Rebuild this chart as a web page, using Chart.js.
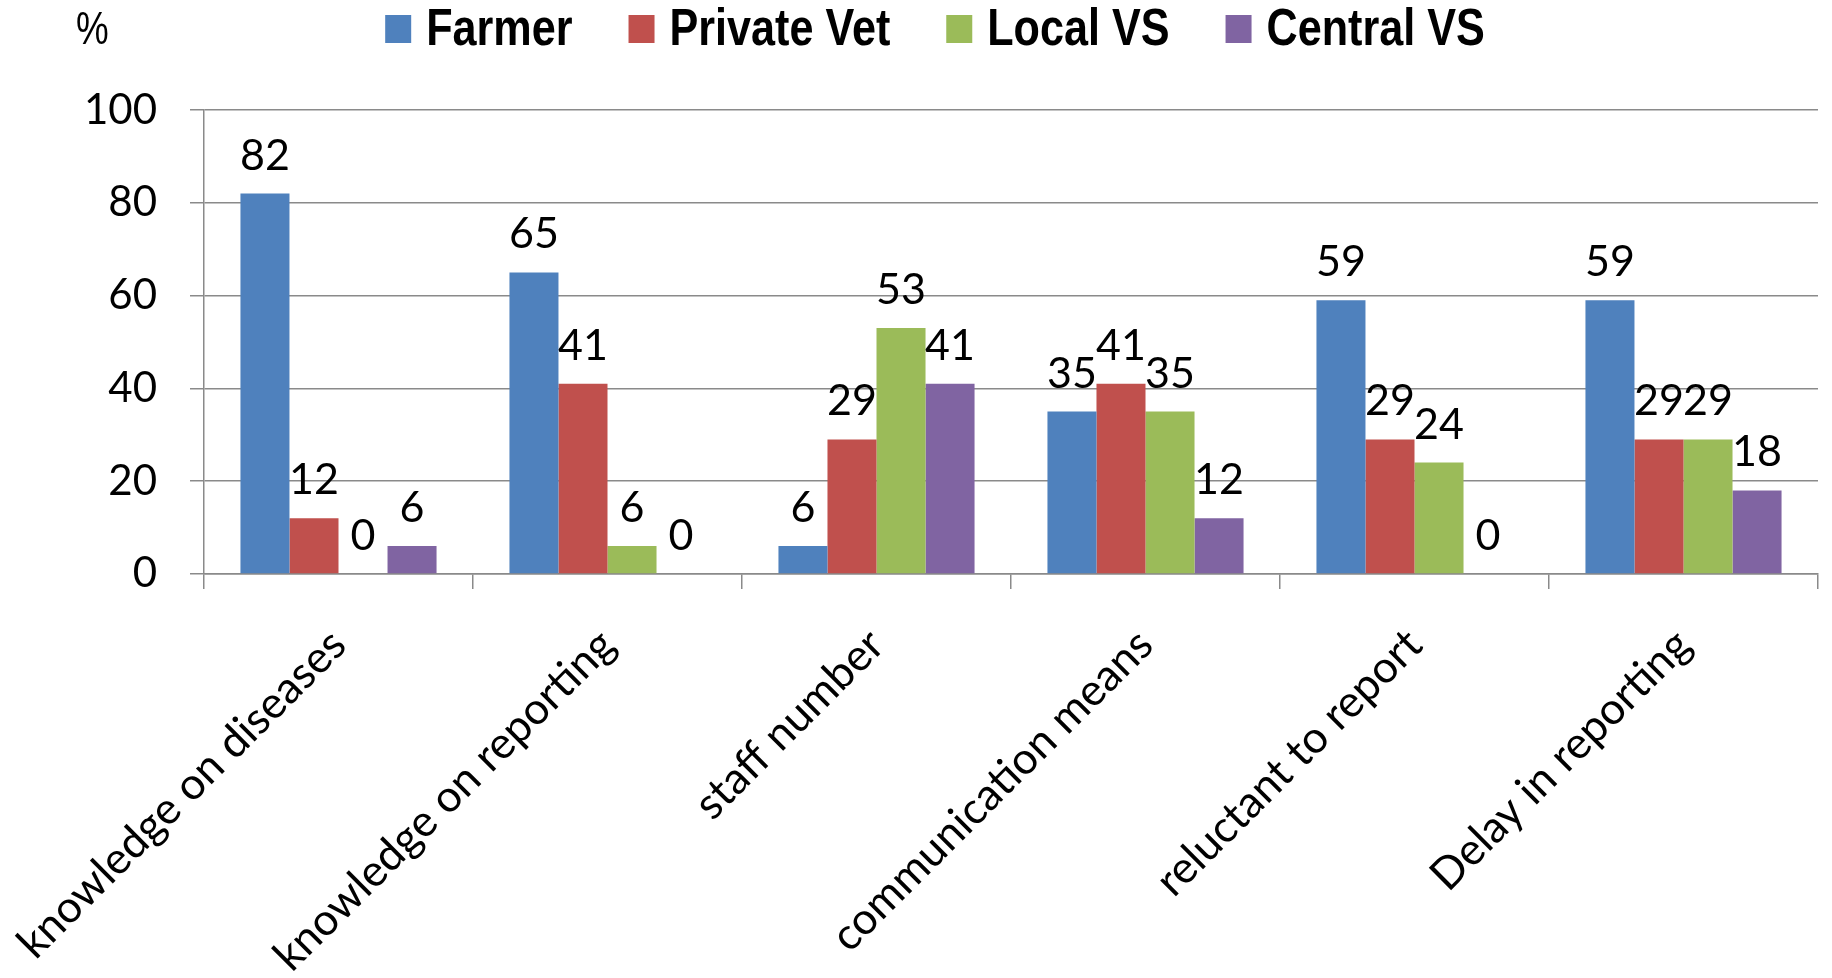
<!DOCTYPE html>
<html>
<head>
<meta charset="utf-8">
<script src="https://cdn.jsdelivr.net/npm/chart.js@4.4.1/dist/chart.umd.min.js"></script>
<style>
  html, body { margin: 0; padding: 0; background: #fff; }
  #wrap { width: 1832px; height: 978px; }
</style>
</head>
<body>
<div id="wrap"><canvas id="chart"></canvas></div>
<script>
const CATEGORIES = ['knowledge on diseases', 'knowledge on reporting', 'staff number',
                    'communication means', 'reluctant to report', 'Delay in reporting'];
const FARMER      = [82, 65, 6, 35, 59, 59];
const PRIVATE_VET = [12, 41, 29, 41, 29, 29];
const LOCAL_VS    = [0, 6, 53, 35, 24, 29];
const CENTRAL_VS  = [6, 0, 41, 12, 0, 18];
const Y_TICKS     = [0, 20, 40, 60, 80, 100];

const GRID = '#8a8a8a';
const NUM_FONT = 'Lato, "Open Sans", sans-serif';
const LEGEND_FONT = '"Liberation Sans", Arial, sans-serif';

const data = {
  labels: CATEGORIES,
  datasets: [
    { label: 'Farmer',      data: FARMER,      backgroundColor: '#4F81BD' },
    { label: 'Private Vet', data: PRIVATE_VET, backgroundColor: '#C0504D' },
    { label: 'Local VS',    data: LOCAL_VS,    backgroundColor: '#9BBB59' },
    { label: 'Central VS',  data: CENTRAL_VS,  backgroundColor: '#8064A2' }
  ]
}

// value above each bar, like excel "outside end"
const valueLabels = {
  id: 'valueLabels',
  afterDatasetsDraw: (chart) => {
    const {ctx} = chart
    ctx.save()
    ctx.font = '43px ' + NUM_FONT
    ctx.fillStyle = '#000'
    ctx.textAlign = 'center'
    ctx.textBaseline = 'alphabetic'
    chart.data.datasets.forEach((ds, i) => {
      const meta = chart.getDatasetMeta(i)
      meta.data.forEach((bar, j) => {
        ctx.fillText(String(ds.data[j]), bar.x, bar.y - 24)
      })
    })
    ctx.restore()
  }
}

// legend with condensed bold text + the "%" unit at top left
// (no narrow font installed, so squeeze the text horizontally)
const topLegend = {
  id: 'topLegend',
  afterDraw: (chart) => {
    const {ctx} = chart
    const squeeze = 0.83
    const box = 26, boxH = 28, gap = 15, spacing = 56, midY = 29
    ctx.save()
    ctx.font = 'bold 52px ' + LEGEND_FONT
    ctx.textBaseline = 'middle'
    ctx.textAlign = 'left'
    const items = chart.data.datasets.map(ds => ({
      text: ds.label, color: ds.backgroundColor,
      w: ctx.measureText(ds.label).width * squeeze
    }))
    let total = items.reduce((s, it) => s + box + gap + it.w, 0) + spacing * (items.length - 1)
    let x = 935 - total / 2
    items.forEach(it => {
      ctx.fillStyle = it.color
      ctx.fillRect(x, midY - boxH / 2, box, boxH)
      ctx.fillStyle = '#000'
      ctx.save()
      ctx.translate(x + box + gap, midY + 2)
      ctx.scale(squeeze, 1)
      ctx.fillText(it.text, 0, 0)
      ctx.restore()
      x += box + gap + it.w + spacing
    })

    ctx.font = '46px ' + LEGEND_FONT
    ctx.save()
    ctx.translate(76, 31)
    ctx.scale(0.8, 1)
    ctx.fillText('%', 0, 0)
    ctx.restore()
    ctx.restore()
  }
}

const options = {
  responsive: true,
  maintainAspectRatio: false,
  animation: false,
  layout: { padding: { top: 110, left: 0, right: 14, bottom: -34 } },
  datasets: {
    bar: { categoryPercentage: 0.729, barPercentage: 1.0 }
  },
  plugins: {
    tooltip: { enabled: false },
    legend: { display: false }
  },
  scales: {
    x: {
      // rotated labels may hang past the left edge, don't reserve room for it
      afterFit: (axis) => { axis.paddingLeft = 0 },
      grid: { offset: true, drawOnChartArea: false, drawTicks: true, tickLength: 15, color: GRID, lineWidth: 1.5 },
      border: { display: true, color: GRID, width: 1.5 },
      ticks: {
        color: '#000',
        autoSkip: false,
        minRotation: 45,
        maxRotation: 45,
        padding: 30,
        font: { family: NUM_FONT, size: 44 }
      }
    },
    y: {
      min: 0,
      max: 100,
      afterBuildTicks: (axis) => { axis.ticks = Y_TICKS.map(v => ({value: v})) },
      afterFit: (axis) => { axis.width = 204 },
      grid: { color: GRID, lineWidth: 1.5, tickLength: 14, drawTicks: true },
      border: { display: true, color: GRID, width: 1.5 },
      ticks: {
        color: '#000',
        padding: 33,
        font: { family: NUM_FONT, size: 42 }
      }
    }
  }
}

const config = {
  type: 'bar',
  data,
  options,
  plugins: [valueLabels, topLegend],
}

const $chart = document.getElementById('chart')
const chart = new Chart($chart, config)
</script>
</body>
</html>
